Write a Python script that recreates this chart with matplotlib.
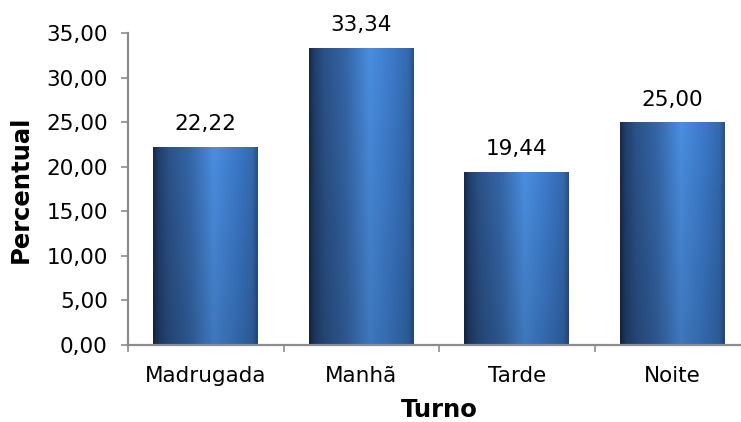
import numpy as np
import matplotlib
matplotlib.use("Agg")
import matplotlib.pyplot as plt
from matplotlib.colors import LinearSegmentedColormap
from matplotlib.ticker import FuncFormatter

turnos = ["Madrugada", "Manhã", "Tarde", "Noite"]
percentual = [22.22, 33.34, 19.44, 25.00]

plt.rcParams["font.family"] = ["DejaVu Sans"]

fig = plt.figure(figsize=(7.41, 4.22), dpi=100)
ax = fig.add_axes([128 / 741, 77 / 422, 622 / 741, 312 / 422])

# cilindro: escuro nas bordas, claro um pouco à direita do centro
cmap = LinearSegmentedColormap.from_list("cil", [
    (0.00, "#172846"),
    (0.05, "#213f6c"),
    (0.15, "#2b5289"),
    (0.35, "#3466a8"),
    (0.58, "#4a8ee0"),
    (0.80, "#3c79c8"),
    (0.95, "#3469ae"),
    (1.00, "#2a5080"),
])
grad_x = np.linspace(0, 1, 256)
rgb = cmap(grad_x)[:, :3]
sombra = np.linspace(1.0, 0.84, 100)[:, None, None]
grad = np.clip(rgb[None, :, :] * sombra, 0, 1)

xs = np.arange(len(turnos))
larg = 0.675
barras = ax.bar(xs, percentual, width=larg, color="none", edgecolor="none", zorder=2)
for b, v in zip(barras, percentual):
    x0 = b.get_x()
    img = ax.imshow(grad, extent=[x0, x0 + larg, 0, v], aspect="auto",
                    origin="upper", zorder=2)
    img.set_clip_path(b)
    ax.annotate(f"{v:.2f}".replace(".", ","), (b.get_x() + larg / 2, v),
                xytext=(0, 9), textcoords="offset points",
                ha="center", va="bottom", fontsize=15.5)

ax.set_xlim(-0.5, 3.5)
ax.set_ylim(0, 35)
ax.set_yticks(np.arange(0, 36, 5))
ax.yaxis.set_major_formatter(FuncFormatter(lambda v, p: f"{v:.2f}".replace(".", ",")))
ax.set_xticks(xs)
ax.set_xticklabels(turnos)
ax.set_xticks(np.arange(-0.5, 4, 1), minor=True)

for lado in ["top", "right"]:
    ax.spines[lado].set_visible(False)
for lado in ["left", "bottom"]:
    ax.spines[lado].set_color("#8c8c8c")
    ax.spines[lado].set_linewidth(1.6)

ax.tick_params(axis="y", length=5, width=1.2, color="#8c8c8c", labelsize=15.5, pad=9.5)
ax.tick_params(axis="x", which="major", length=0, labelsize=15.5, pad=15)
ax.tick_params(axis="x", which="minor", length=5, width=1.2, color="#8c8c8c")

ax.set_xlabel("Turno", fontsize=17.5, fontweight="bold")
ax.set_ylabel("Percentual", fontsize=17.5, fontweight="bold")
ax.xaxis.set_label_coords(0.5, -0.17)
ax.yaxis.set_label_coords(-0.153, 0.5)

fig.savefig("out.png", dpi=100)
